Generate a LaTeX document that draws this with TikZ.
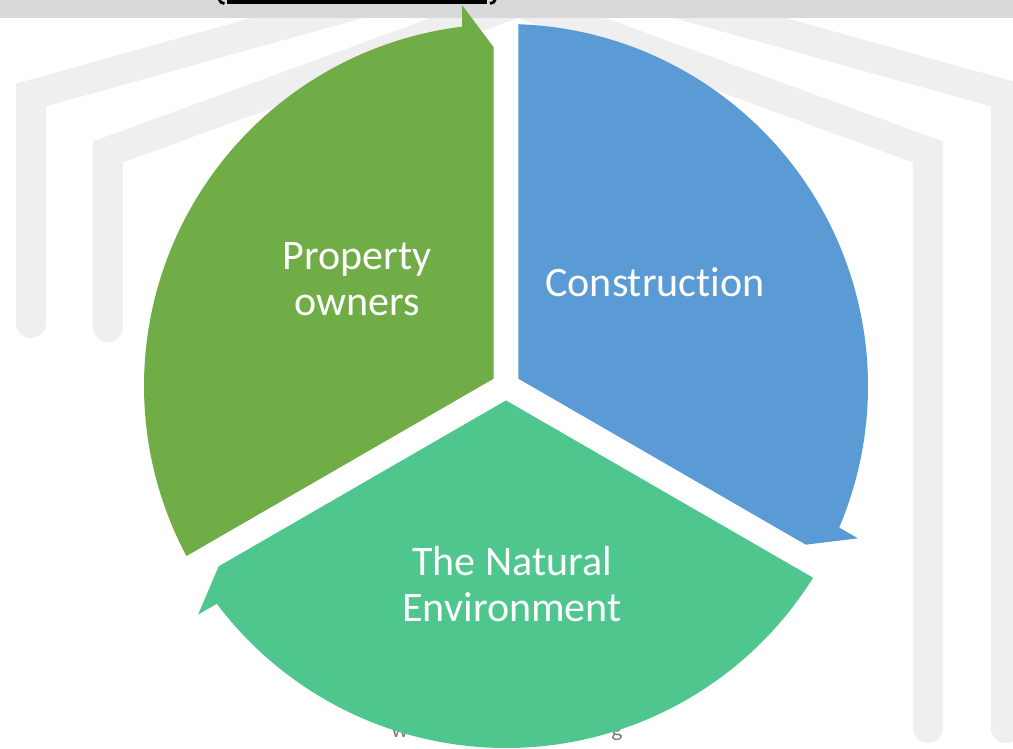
\documentclass[tikz,border=0pt]{standalone}
\usepackage{fontspec}
\newfontfamily\labelfont[Ligatures=NoCommon]{Carlito}
\usetikzlibrary{positioning}
\definecolor{segGreen}{HTML}{70AD47}
\definecolor{segBlue}{HTML}{5B9BD5}
\definecolor{segTeal}{HTML}{4EC68E}
\definecolor{bandgray}{HTML}{D9D9D9}
\definecolor{markgray}{HTML}{EFEFEF}
\definecolor{urlgray}{HTML}{808080}

\begin{document}
\begin{tikzpicture}[x=0.025cm, y=0.025cm]
\tikzstyle{seglabel}=[text=white, align=center, font=\labelfont\fontsize{29.9}{32.4}\selectfont]
\tikzstyle{urltext}=[text=urlgray, anchor=base, font=\labelfont\fontsize{17}{20}\selectfont]
\tikzstyle{gable}=[draw=markgray, line width=0.75cm, line cap=round, line join=miter]
\useasboundingbox (-506,-363) rectangle (507,386);
\fill[white] (-506,-363) rectangle (507,386);
\begin{scope}
	\clip (-506,-363) rectangle (507,386);
	% faint background gables
	\draw[gable] (-475,63) -- (-475,291) -- (12,427) -- (500,291) -- (500,-342);
	\draw[gable] (-398,59) -- (-398,234) -- (12,384) -- (422,234) -- (422,-342);
	% top band
	\fill[bandgray] (-506,368) rectangle (507,386);
\end{scope}
% clipped heading underline
\fill[black] (-279,382) rectangle (-19,386);
\draw[black, line width=0.07cm] (-287,387) to[out=-80,in=180] (-281.5,382.5);
\draw[black, line width=0.07cm] (-10.5,387) to[out=-100,in=0] (-16,382.5);

	\node[urltext] (urlw) at (-106,-351) {w};
	\node[urltext] (urlg) at (111,-350) {g};

% the three cycle segments
\foreach \rot/\col in {0/segGreen, -120/segBlue, -240/segTeal}
	\fill[\col] (150+\rot:14.43) -- (92.112+\rot:339.2) -- (96.588+\rot:383.5) -- (96.98+\rot:362)
		arc[start angle=96.98+\rot, end angle=208.02+\rot, radius=362] -- cycle;

	\node[seglabel] (owners) at (-149,107) {Property\\owners};
	\node[seglabel] (construct) at (149,104) {Construction};
	\node[seglabel] (nature) at (6,-198) {The Natural\\Environment};
\end{tikzpicture}
\end{document}
